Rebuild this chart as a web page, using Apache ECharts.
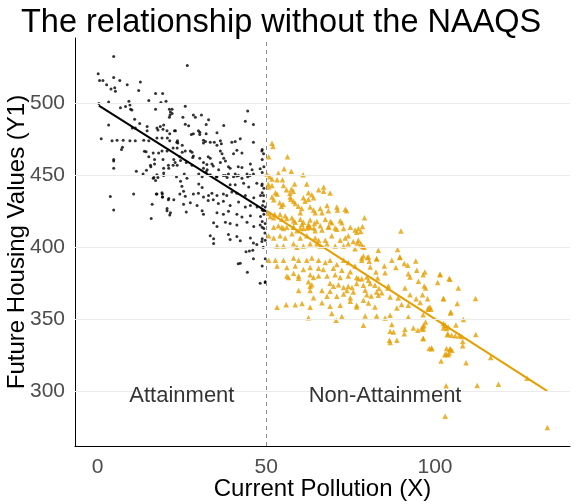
<!DOCTYPE html>
<html lang="en">
<head>
    <meta charset="UTF-8">
    <title>The relationship without the NAAQS</title>
    <script src="https://cdn.jsdelivr.net/npm/echarts@6/dist/echarts.min.js"></script>
    <style>
        html, body { margin: 0; padding: 0; background: #fff; }
    </style>
</head>
<body>
<div id="main" style="width: 576px;height:504px;"></div>
<script type="text/javascript">
    // points: [pollution X, housing value Y1]
    var attainPoints = [
        [4.8,532.6],[0.2,520.6],[0.6,516],[1.6,516],[4.8,518],[2.7,513],[4.0,510],[5.1,511],[5.3,508.5],[6.6,516],
        [8.8,513],[12.7,515],[12.2,509],[0.4,500],[3.3,501],[9.3,501.6],[9.6,499],[6.8,497],[8.3,497.9],[9.8,496],
        [10.2,495.5],[15.2,502],[17.2,507],[19.3,507],[18.8,500.7],[20.3,501.6],[17.2,496],[21.3,496],[21.6,494],[21.5,492],
        [21.3,490.5],[11,489],[12.5,486],[3.3,485],[10.3,483],[11.2,483],[14.7,484],[14.7,481],[17.6,483],[18.6,484],
        [19.4,482],[17.9,481.5],[19.6,485],[20.6,481],[21.4,479],[22.8,481],[1.1,475.5],[4.3,474],[5.8,474.5],[7.6,474.5],
        [9.6,474],[11.2,474],[13.7,474.5],[15.2,474],[17.6,476],[19.1,476],[20.7,476],[21.4,474],[23.8,472.5],[7.4,469.5],
        [7.1,468],[13.9,466.7],[14.4,466.5],[16.5,465.5],[18.1,465.5],[19.1,467],[20.6,467],[22.4,469],[23.6,469],[16.9,461],
        [19.4,461],[15.2,463],[24.4,463],[4.8,461],[4.8,455],[15.7,457],[21,457],[22.4,457],[23.6,457],[19.6,455],
        [26.6,526.4],
        [26,498],[22.1,496],[22.1,493],[25.3,490.5],[28.4,492],[29,490.5],[30.8,492],[32.9,488.7],[44.5,494.7],[43.8,487.7],
        [46.2,485.4],[37.4,484.7],[26,485.5],[27,484.5],[32.2,485.4],[23.1,481],[30.3,480],[30.3,478.5],[29.9,481],[28.4,479],
        [27.8,478.5],[32.2,479],[35.4,479.6],[23.7,474],[23.5,473],[25.1,471],[26,467],[27.5,467],[28,466],[31.4,474.5],
        [32,473.5],[31.4,472.5],[33.4,473],[34.6,473],[36.4,474],[36.7,472],[35.4,471],[39.8,473],[40.8,473.5],[42.3,475.5],
        [46.2,473],[48.7,467],[25.1,466],[28.4,463.5],[28.2,462.5],[30.3,462],[32.8,463],[33.4,462],[36.4,467],[36.9,465],
        [37.4,462],[37.9,460],[40.3,465],[41.3,467.5],[42.8,465.5],[22.6,461],[23,459],[24.6,460.4],[26.3,459],[28,457],
        [31.4,459],[32.4,457.5],[33.9,458],[34.3,456.5],[31.4,455],[32.2,452.5],[32.5,454],[35.9,454],[36.4,459],[38.8,456],
        [39.3,455],[41.7,456],[42.8,455.5],[45.3,458],[45.8,454],[48.2,454.7],[44.3,451],[44.5,449],[40.8,451],[41.3,449.5],
        [37.9,450],[38.4,448.5],[35.2,449],[25.7,451],[26.5,448],[23.4,449],[30,451],[31,449],
        [4.8,460],[11.5,452.8],[13.5,451],[14.5,453.5],[15.8,456],[16.9,458],[16.5,448],[17.2,446.5],[17.9,448.5],[19.6,450],
        [21.1,455],[3.8,435.4],[10.7,437],[17.6,437],[19.1,438],[19.3,435],[21,433],[16.2,430],[4.8,426],[20.6,425.5],
        [21.4,422.5],[15.9,420],
        [19.6,451.6],[16.7,448.5],[17.6,450.5],[24.6,446],[25,442.5],[30,444],[31,441.5],[33.4,450.5],[35.4,449],[37.3,450],
        [38.8,451],[40.3,449],[41.8,450],[42.8,448],[45.2,450],[46.2,451],[39.3,443.5],[40.8,443.5],[43.3,444.5],[44.8,442],
        [47.2,444.5],[48.7,443],[17.4,437],[19.2,437],[19.2,435],[21.1,434],[22.6,433],[24.4,437],[25.5,439],[26,435.5],
        [28.4,437],[29.9,437.5],[31.4,435],[32.9,436],[33.9,437.5],[35.4,436],[37.3,437],[38.3,436],[39.8,438.5],[41.3,437.5],
        [43.8,436],[46.3,434.5],[48.3,436],[49.2,432],[20.6,427],[21.6,424],[25.5,430],[27.5,431],[29.5,429],[32.8,432.5],
        [34.3,433],[35.8,430.5],[37.3,432],[39.3,429],[41.8,431.5],[43.8,428],[45.3,429],[47.3,428],[49.2,425.5],[26.3,424.5],
        [31,425.5],[31.4,423],[35.4,424],[37.3,423],[38.8,425],[41.3,423],[42.8,421],[45.3,422],[48.3,421.5],[37.9,417.5],
        [39.3,416.5],[41.3,415.5],[44.3,417.5],[46.3,414.5],[48.2,415.5],[49.7,416.5],[34.4,417],[35.4,414.5],[33.4,408],[34.4,406],
        [38.8,409],[39.3,405.5],[41.3,407.5],[42.3,404.5],[45.3,406.5],[46.2,403],[47.2,402],[48.7,404],[49.7,405],[34.4,402.6],
        [44,397],[45,397.5],[46,398],[41.7,388.6],[42.3,389],[46.2,392],[48.2,375],[49.7,375.6],[44.4,382.6],
        [48.8,468],[49.2,465],[48.8,461],[49.3,456],[48.8,452],[48.8,444],[49.3,441],[48.8,438],[49.2,436],[48.9,429],
        [49.7,428],[48.8,426],[49.3,423],[48.8,418],[48.8,414],[49.3,413],[49.6,410],[48.8,406],[49.1,400],[49.7,392],
        [48.8,387],[49.7,376]
    ];

    var nonAttainPoints = [
        [51.7,472.4],[52,470.1],[50.7,463],[56.3,463],[50.2,451],[51,449],[51.7,447.5],[53.6,451.6],[55.3,454.6],[57.4,452.8],
        [60.9,450.5],[53.2,447],[54.8,447],[50.6,444],[51.7,443],[50.7,442],[55.1,443],[58.4,444],[62,444],[52.7,438],
        [53.2,437],[56,440],[57.5,440.5],[58,439],[57,437.5],[65.5,440],[67,442],[67,439],[62.5,438],[63.5,436.5],
        [61,434.5],[61.5,432],[62.5,433.5],[64,434.5],[68.9,437.7],[51.7,435],[52.2,433],[54,431],[55,430],[54.5,428.5],
        [57.1,435],[57.3,433.5],[58.1,432],[58.6,430.5],[59.5,428.5],[60.5,427],[60.1,424],[63,428],[64,426],[64.5,424],
        [66,427],[66.5,424],[68,429],[68.4,425.5],[70.9,428],[71.1,426],[73.4,426.5],[73.8,425.5],[50.6,423.5],[51.2,421.5],
        [52.2,420.5],[52.5,423],[54.1,423],[55.6,422],[56.1,420],[54.6,419.5],[57.6,420.5],[58.1,418.5],[58.6,417.5],[60.1,419.5],
        [61,417.5],[60.6,416],[63,419],[62.5,416],[64.3,416.5],[65,418],[66,415],[67.5,419.5],[69,418],[69.4,417],
        [71.9,418.5],[72.4,417],[53.6,415],[54.6,414],[56.1,414],[58.1,414],[60.1,413.5],[62.1,413.5],[62.6,414.5],[64.1,413.5],
        [68.5,414.5],[70.4,413.5],
        [52.2,414],[55.1,413],[58.1,414],[59.1,411.5],[61,413],[63,414],[64.5,411.5],[66.5,412],[68.4,414],[70.9,412.5],
        [72.9,413],[74.9,414],[76.3,412],[76.8,410.5],
        [50.7,408],[52.2,406.5],[54.1,408],[55.6,406.5],[57.6,409.5],[60.1,406.5],[62,408],[64.5,406.5],[65.5,405],[67.5,405],
        [69.4,408],[71.9,405],[73.4,406.5],[74.3,408],[75.8,404],[77.3,405],
        [53.2,401],[55.1,401],[58.1,402.5],[59.1,400],[61,401],[63,402.5],[65,402.5],[66,401],[68,402.5],[70.4,401],
        [72.9,401],[74.3,402.5],[76.3,399],
        [50.7,391],[52.7,391],[55.1,391],[58.1,392.5],[59.6,391],[62,391],[63.5,392.5],[65.5,391],[67.5,389.5],[68.9,391],
        [70.9,388],[72.9,391],[74.3,389.5],[76.3,387],
        [53.2,387],[56.1,386],[58.6,387],[61,384.5],[63,386],[65.5,385.5],[66.9,384.5],[69.9,385.5],[72.4,384],[74.9,383],
        [56.1,380],[58.1,382],[59.6,380],[63,381],[64,379],[65.5,380],[68,380],[70.4,381],[71.9,379],[74.3,380],[76.8,379],
        [56.6,379],[59.6,378.5],[62.5,376],[63.5,374],[68.9,375],[69.9,373],[71.4,374],[72.9,372],[74.3,373],[75.4,372],[63,373],
        [59.6,370],[66.5,370],[68.9,369.5],[63,370],[73.9,370],[75.8,369],
        [68,366],[70.9,366],[72.9,367.5],[74.9,365],
        [64,365],[60.6,361],[66.5,361.5],[71.9,359.7],[74.9,362.5],[76.8,359.7],
        [53.2,358.3],[55.9,360],[58.6,360],[63,358.3],[68.9,359],
        [62.5,351],[69.4,354],[72.4,352],[70.7,349.3],
        [79.1,420.6],[77.3,413],[78,411],[78.5,414.5],[89.9,411.3],[77,403],[78,402.5],[78.5,400.5],[79,400],[83.2,398],
        [88.9,398.4],[78.8,394],[80,393],[78.3,392.5],[82.7,392],[89.6,393],
        [78.3,391],[80.3,393.3],[80.5,390.3],[82.7,392.1],[87.2,391],[89.6,393.3],[90.9,388.7],[91.9,387.5],[94.3,390.5],[85,387],
        [88.4,385.9],[80.8,386.3],[85.2,382.4],[82.5,382.9],[77.3,378.2],[78.3,378.2],[79.8,379.4],[80.3,377.1],[83,378.7],[92.1,381.7],
        [92.6,379.4],[94.6,384],[96.5,381],[97,382.9],[101.5,381.2],[95.1,376.4],[100.8,375.5],[104.4,377.8],[76.8,374.8],[78.8,373.6],
        [80.8,374.8],[82.2,373.6],[86.2,373.1],[86,371.7],[91.1,371.7],[96.8,373.1],[97.2,371.7],[79.3,370.1],[79.8,367.1],[81.1,366.2],
        [83.4,371.3],[82.7,369],[83.2,366.7],[84.2,368.5],[86.7,365.5],[89.1,364.8],[92.6,367.1],[94.4,364.3],[96.3,367.1],[97.8,364.3],
        [102.5,364.3],[78.8,363.2],[80.3,361.3],[82.2,358.5],[88.7,357.9],[90.1,360.2],[92.1,359.7],[95.6,361.6],[98,357.9],[98.8,356.9],
        [104.7,355.1],[76.8,358.6],[79.3,352.3],[82.7,352.3],[85.2,350.9],[86.7,352.8],[92.1,351.6],[96.5,353.2],[97.2,348.1],[102.5,347],
        [102.9,345.8],[103.9,344.7],[103.4,343.5],[78.8,345.8],[87.2,346.3],[91.1,343],[93.6,344],[94.9,342.4],[86.7,341.7],[87.7,341.2],
        [90.9,340],[96.5,343],[103.7,339.3],[104.9,338.9],[86.5,335.4],[86.7,333.8],[88.7,335.4],[96.5,336.6],[99,330.1],[103.4,329.6],
        [104.4,329.2],[102.9,325.4],[103.9,325.4],[98.3,329.7],
        [98,357],[98.5,358.6],[106.6,361],[104.6,354.4],[108.4,349.8],[96.7,346],[96.5,345],[103,346],[102.5,344],[106.2,346],
        [96,343.5],[103.8,340],[106,338.5],[107.2,338.5],[107.9,338],[112.1,339.4],[96.5,336.6],[108.2,334.5],[108.2,331.5],[99,329.5],
        [104.5,329.5],[105,328.5],[103.3,326],[104.2,326.5],[101.8,321],[109.2,319.7],[116.5,323.4],[127.3,309],[103.3,303.7],[112.5,304],
        [118.8,304.9],[103,282.6],[133.3,274.8],
        [101.5,381],[104.2,378.3],[106.9,371.8],[102.5,364.4],[112,364.4]
    ];

    // fitted lines, one per side of the standard
    var attainFit = [[0.4, 498.5], [50, 425]];
    var nonAttainFit = [[50, 425.5], [133.3, 300]];

    var cutoff = 50;
    var xTicks = [0, 50, 100];
    var yTicks = [300, 350, 400, 450, 500];
    var regionLabels = [
        {name: 'Attainment', value: [25, 297]},
        {name: 'Non-Attainment', value: [85.2, 297]}
    ];

    var font = 'Liberation Sans, Arial, Helvetica, sans-serif';
    var myChart = echarts.init(document.getElementById('main'));

    myChart.setOption({
        animation: false,
        title: {
            text: 'The relationship without the NAAQS',
            left: 16,
            top: 2,
            textStyle: {fontFamily: font, fontSize: 32.5, fontWeight: 'normal', color: '#000'}
        },
        grid: {left: 75, right: 6, top: 38, bottom: 58, containLabel: false, outerBoundsMode: 'none'},
        xAxis: {
            type: 'value',
            min: -6.67,
            max: 140,
            name: 'Current Pollution (X)',
            nameLocation: 'middle',
            nameGap: 31,
            nameMoveOverlap: false,
            nameTextStyle: {fontFamily: font, fontSize: 24, color: '#000'},
            axisLine: {show: true, onZero: false, lineStyle: {color: '#000', width: 1}},
            axisTick: {show: false},
            axisLabel: {customValues: xTicks, margin: 11, fontFamily: font, fontSize: 21, color: '#4D4D4D'},
            splitLine: {show: false}
        },
        yAxis: {
            type: 'value',
            min: 261.9,
            max: 545.5,
            name: 'Future Housing Values (Y1)',
            nameLocation: 'middle',
            nameGap: 46,
            nameRotate: 90,
            nameMoveOverlap: false,
            nameTextStyle: {fontFamily: font, fontSize: 24, color: '#000'},
            axisLine: {show: true, onZero: false, lineStyle: {color: '#000', width: 1}},
            axisTick: {show: false},
            axisLabel: {customValues: yTicks, margin: 10, fontFamily: font, fontSize: 21, color: '#4D4D4D'},
            splitLine: {show: false}
        },
        series: [
            {
                // grid lines + cutoff line
                type: 'scatter',
                data: [],
                silent: true,
                z: 1,
                markLine: {
                    silent: true,
                    symbol: 'none',
                    label: {show: false},
                    data: yTicks.map(function (v) {
                        return {yAxis: v, lineStyle: {color: '#EBEBEB', width: 1, type: 'solid'}};
                    }).concat([{xAxis: cutoff, lineStyle: {color: '#8C8C8C', width: 1, type: [4, 4]}}])
                }
            },
            {
                name: 'Attainment',
                type: 'scatter',
                data: attainPoints,
                symbol: 'circle',
                symbolSize: 3,
                itemStyle: {color: '#000'},
                z: 3
            },
            {
                name: 'Non-Attainment',
                type: 'scatter',
                data: nonAttainPoints,
                symbol: 'triangle',
                symbolSize: 5.5,
                itemStyle: {color: '#E69F00'},
                z: 3
            },
            {
                type: 'line',
                data: attainFit,
                symbol: 'none',
                lineStyle: {color: '#000', width: 2},
                z: 4
            },
            {
                type: 'line',
                data: nonAttainFit,
                symbol: 'none',
                lineStyle: {color: '#E69F00', width: 2},
                z: 4
            },
            {
                type: 'scatter',
                data: regionLabels,
                symbolSize: 0,
                silent: true,
                label: {
                    show: true,
                    position: 'inside',
                    formatter: function (p) { return p.name; },
                    fontFamily: font,
                    fontSize: 22,
                    color: '#000'
                },
                z: 5
            }
        ]
    });
</script>
</body>
</html>
